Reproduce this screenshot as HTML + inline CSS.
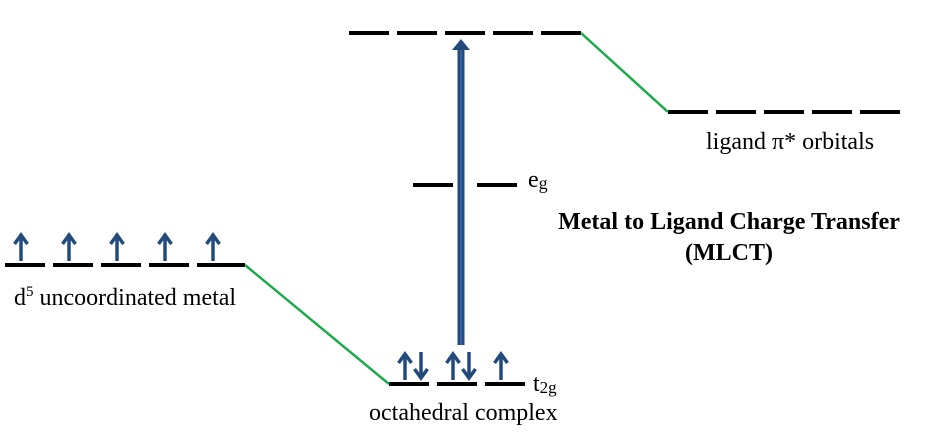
<!DOCTYPE html>
<html><head><style>body{margin:0;background:#fff}</style></head><body>
<svg width="934" height="433" xmlns="http://www.w3.org/2000/svg" font-family="Liberation Serif, serif">
<defs>
<g id="u" stroke="#244a7c" stroke-width="3.5" fill="none"><line x1="0" y1="-2" x2="0" y2="-28"/><path d="M-6.5 -19L0 -28L6.5 -19"/></g>
<g id="d" stroke="#244a7c" stroke-width="3.5" fill="none"><line x1="0" y1="-30" x2="0" y2="-4"/><path d="M-6.5 -13L0 -4L6.5 -13"/></g>
</defs>
<g stroke="#000" stroke-width="4">
<line x1="349" y1="33" x2="389" y2="33"/><line x1="397" y1="33" x2="437" y2="33"/><line x1="445" y1="33" x2="485" y2="33"/><line x1="493" y1="33" x2="533" y2="33"/><line x1="541" y1="33" x2="581" y2="33"/>
<line x1="668" y1="112" x2="708" y2="112"/><line x1="716" y1="112" x2="756" y2="112"/><line x1="764" y1="112" x2="804" y2="112"/><line x1="812" y1="112" x2="852" y2="112"/><line x1="860" y1="112" x2="900" y2="112"/>
<line x1="413" y1="185" x2="453" y2="185"/><line x1="477" y1="185" x2="517" y2="185"/>
<line x1="389" y1="384" x2="429" y2="384"/><line x1="437" y1="384" x2="477" y2="384"/><line x1="485" y1="384" x2="525" y2="384"/>
<line x1="5" y1="265" x2="45" y2="265"/><line x1="53" y1="265" x2="93" y2="265"/><line x1="101" y1="265" x2="141" y2="265"/><line x1="149" y1="265" x2="189" y2="265"/><line x1="197" y1="265" x2="245" y2="265"/>
</g>
<g stroke="#1aaa4a" stroke-width="2.5"><line x1="581" y1="33" x2="668" y2="112"/><line x1="245" y1="265" x2="389" y2="384"/></g>
<use href="#u" x="21" y="263"/><use href="#u" x="69" y="263"/><use href="#u" x="117" y="263"/><use href="#u" x="165" y="263"/><use href="#u" x="213" y="263"/>
<use href="#u" x="405" y="382"/><use href="#d" x="421" y="382"/><use href="#u" x="453" y="382"/><use href="#d" x="469" y="382"/><use href="#u" x="501" y="382"/>
<path d="M457.5 345V50H452L461 39L470 50H464.5V345Z" fill="#244a7c"/>
<line x1="461" y1="50" x2="461" y2="345" stroke="#3d6aa8" stroke-width="1.5"/>
<g font-size="24" fill="#000">
<text x="706" y="149">ligand π* orbitals</text>
<text x="528" y="187">e<tspan font-size="18" dy="2">g</tspan></text>
<text x="533" y="391">t<tspan font-size="17" dy="2">2g</tspan></text>
<text x="369" y="420">octahedral complex</text>
<text x="14" y="305">d<tspan font-size="15" dy="-9">5</tspan><tspan dy="9"> uncoordinated metal</tspan></text>
<text x="729" y="229" font-weight="bold" text-anchor="middle">Metal to Ligand Charge Transfer</text>
<text x="729" y="260" font-weight="bold" text-anchor="middle">(MLCT)</text>
</g>
</svg>
</body></html>
